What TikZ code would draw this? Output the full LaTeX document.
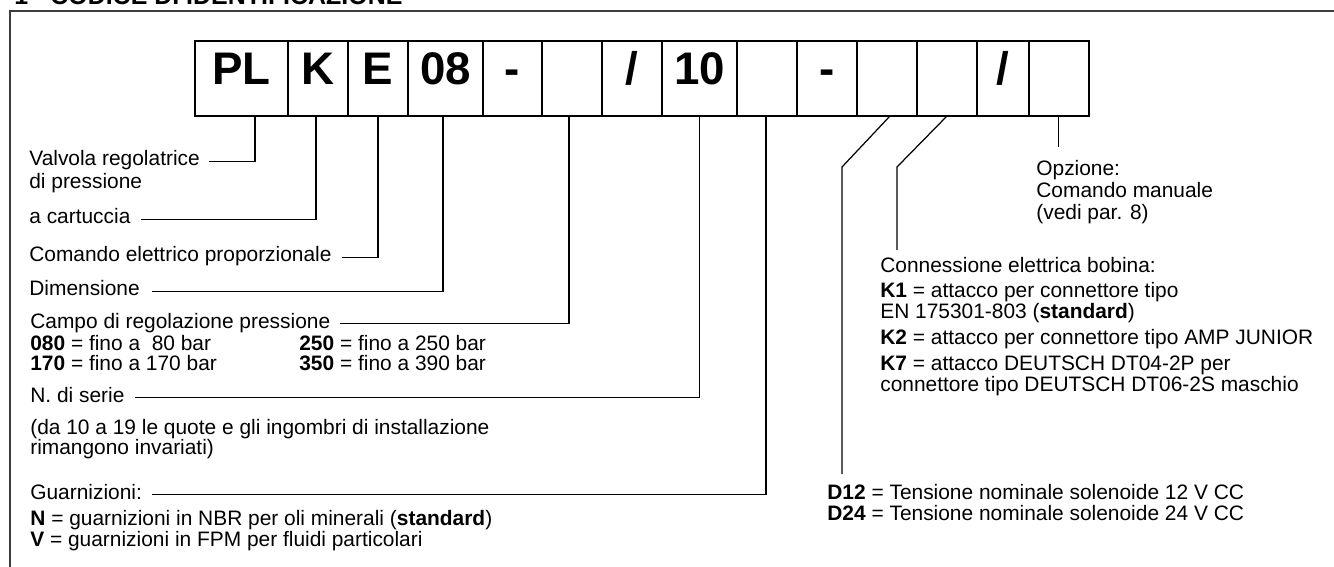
\documentclass[tikz,border=0pt]{standalone}
\usepackage{fontspec}
\setmainfont{Liberation Sans}
\usepackage{xcolor}
\usetikzlibrary{positioning}
\definecolor{framegray}{RGB}{60,60,60}

\begin{document}
\begin{tikzpicture}[x=0.02cm, y=-0.02cm, font=\fontsize{11.9}{14}\selectfont,
  cb/.style={rectangle, draw, line width=0.85pt, outer sep=0pt, inner sep=0pt,
             minimum width=1.2cm, minimum height=1.5cm, text height=0.72em, text depth=0pt,
             font=\fontsize{26}{26}\selectfont\bfseries},
  t/.style={anchor=base west, inner sep=0pt, text height=0.72em, text depth=0.2em},
  a/.style={line width=0.7pt}]
  \useasboundingbox (0,0) rectangle (1334,567);
  \fill[white] (0,0) rectangle (1334,567);
  \node[anchor=base west, inner sep=0pt, font=\fontsize{14.2}{16}\selectfont\bfseries] (title) at (14,5) {1 - CODICE DI IDENTIFICAZIONE};
  \draw[framegray, line width=0.85pt] (10,700) |- (1500,11);

  \node[cb, minimum width=1.86cm] (pl) at (241.5,78.5) {PL};
  \node[cb, right=0pt of pl] (k) {K};
  \node[cb, right=0pt of k] (e) {E};
  \node[cb, minimum width=1.5cm, right=0pt of e] (dim) {08};
  \node[cb, minimum width=1.18cm, right=0pt of dim] (sep1) {-};
  \node[cb, right=0pt of sep1] (pres) {};
  \node[cb, right=0pt of pres] (sl1) {/};
  \node[cb, minimum width=1.5cm, right=0pt of sl1] (ser) {10};
  \node[cb, right=0pt of ser] (gua) {};
  \node[cb, right=0pt of gua] (sep2) {-};
  \node[cb, right=0pt of sep2] (volt) {};
  \node[cb, right=0pt of volt] (conn) {};
  \node[cb, minimum width=1.04cm, right=0pt of conn] (sl2) {/};
  \node[cb, right=0pt of sl2] (opt) {};

  \node[t] (valv) at (29,166) {Valvola regolatrice};
  \node[t] (valv2) at (29,189) {di pressione};
  \node[t] (cart) at (29,224) {a cartuccia};
  \node[t] (cmd) at (29,262) {Comando elettrico proporzionale};
  \node[t] (dimt) at (29,296) {Dimensione};
  \node[t] (campo) at (30,328) {Campo di regolazione pressione};
  \node[t] (p080) at (30,350) {\textbf{080} = fino a\ \ 80 bar};
  \node[t] (p250) at (299,350) {\textbf{250} = fino a 250 bar};
  \node[t] (p170) at (30,370) {\textbf{170} = fino a 170 bar};
  \node[t] (p350) at (299,370) {\textbf{350} = fino a 390 bar};
  \node[t] (sert) at (30,402) {N. di serie};
  \node[t] (ser2) at (30,434) {(da 10 a 19 le quote e gli ingombri di installazione};
  \node[t] (ser3) at (30,454) {rimangono invariati)};
  \node[t] (guat) at (30,499) {Guarnizioni:};
  \node[t] (guan) at (30,525) {\textbf{N} = guarnizioni in NBR per oli minerali (\textbf{standard})};
  \node[t] (guav) at (30,546) {\textbf{V} = guarnizioni in FPM per fluidi particolari};

  \node[t] (opzi) at (1036,176) {Opzione:};
  \node[t] (opzi2) at (1036,198) {Comando manuale};
  \node[t] (opzi3) at (1036,220) {(vedi par. 8)};
  \node[t] (cbob) at (880,273) {Connessione elettrica bobina:};
  \node[t] (k1) at (880,297) {\textbf{K1} = attacco per connettore tipo};
  \node[t] (k1b) at (880,318) {EN 175301-803 (\textbf{standard})};
  \node[t] (k2) at (880,344) {\textbf{K2} = attacco per connettore tipo AMP JUNIOR};
  \node[t] (k7) at (880,370) {\textbf{K7} = attacco DEUTSCH DT04-2P per};
  \node[t] (k7b) at (880,391) {connettore tipo DEUTSCH DT06-2S maschio};
  \node[t] (d12) at (827,499) {\textbf{D12} = Tensione nominale solenoide 12 V CC};
  \node[t] (d24) at (827,520) {\textbf{D24} = Tensione nominale solenoide 24 V CC};

  \draw[a] (pl.south -| 255,0) |- ([xshift=0.18cm]valv.east);
  \draw[a] (k.south -| 316,0) |- ([xshift=0.2cm]cart.east);
  \draw[a] (e.south -| 378,0) |- ([xshift=0.2cm]cmd.east);
  \draw[a] (dim.south -| 443,0) |- ([xshift=0.24cm]dimt.east);
  \draw[a] (pres.south -| 569,0) |- ([xshift=0.18cm]campo.east);
  \draw[a] (ser.south) |- ([xshift=0.2cm]sert.east);
  \draw[a] (gua.south -| 766,0) |- ([xshift=0.2cm]guat.east);
  \draw[a] (volt.south -| 890,0) -- (842,167) -- ([yshift=0.24cm]d12.north -| 842,0);
  \draw[a] (conn.south -| 947,0) -- (897,167) -- ([yshift=0.2cm]cbob.north -| 897,0);
  \draw[a] (opt.south) -- ([yshift=0.32cm]opzi.north -| opt.south);
\end{tikzpicture}
\end{document}
